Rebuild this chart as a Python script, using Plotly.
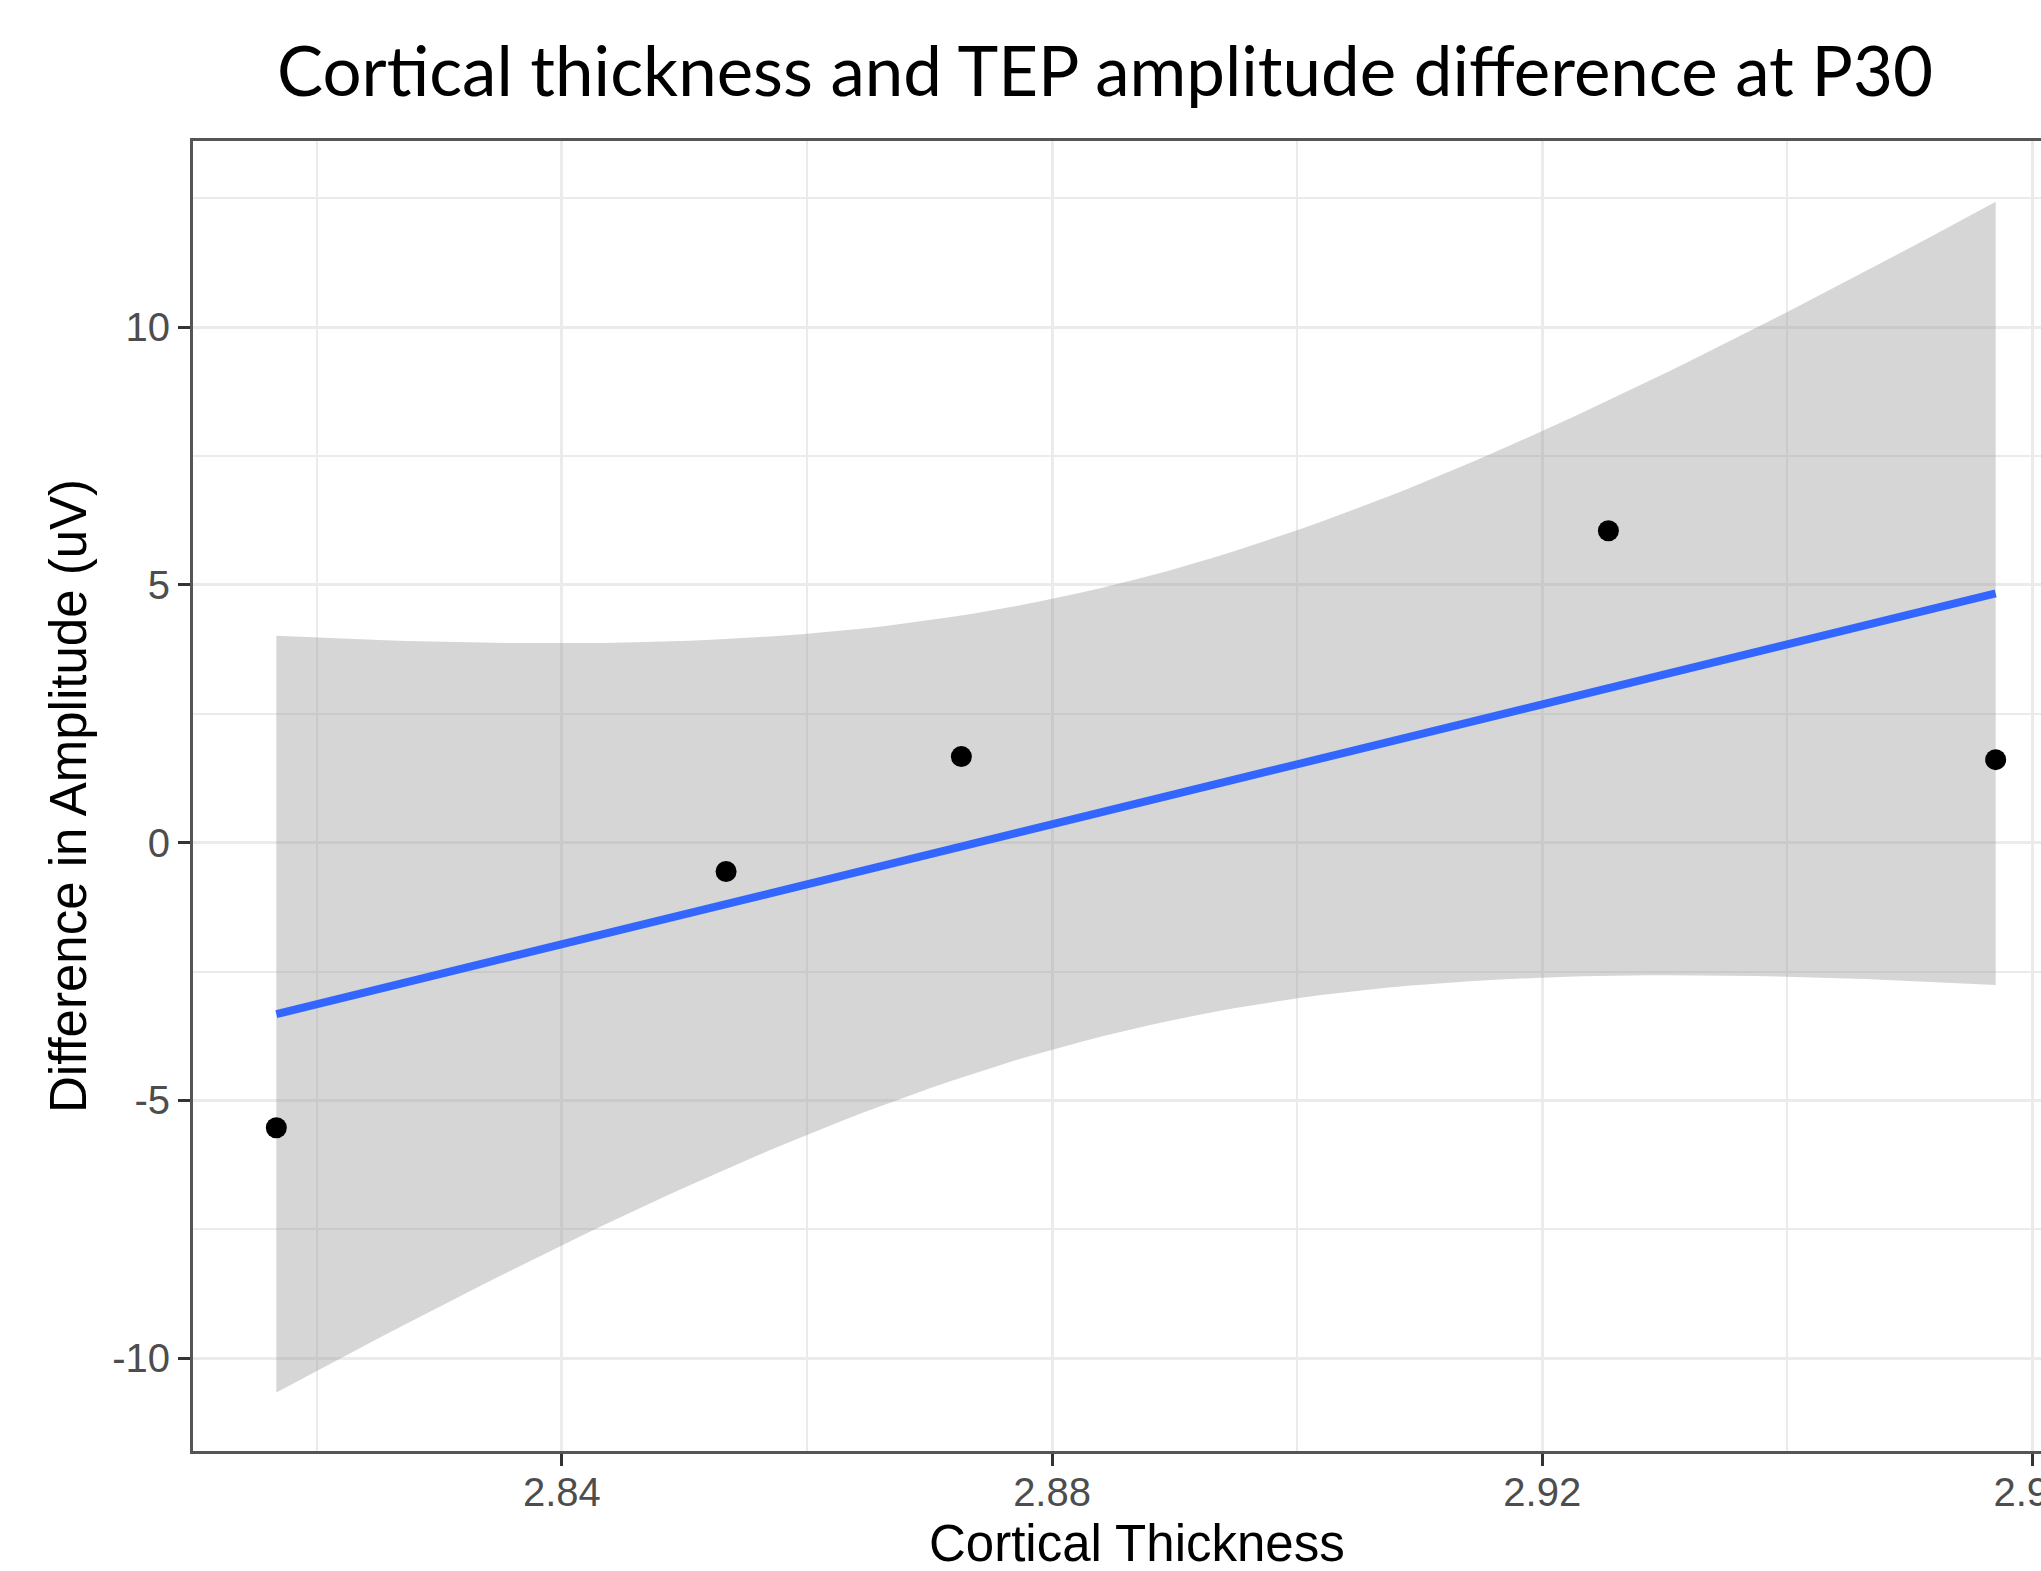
import numpy as np
import plotly.graph_objects as go

# ---- data ----
cortical_thickness = [2.8167, 2.8534, 2.8726, 2.9254, 2.9570]
amp_difference = [-5.53, -0.56, 1.67, 6.05, 1.61]

x_tick_vals = [2.84, 2.88, 2.92, 2.96]
x_tick_text = ["2.84", "2.88", "2.92", "2.96"]
y_tick_vals = [-10, -5, 0, 5, 10]
y_tick_text = ["-10", "-5", "0", "5", "10"]

title_text = "Cortical thickness and TEP amplitude difference at P30"
x_title = "Cortical Thickness"
y_title = "Difference in Amplitude (uV)"

# ---- linear fit with 95% confidence band (as geom_smooth(method = "lm")) ----
x = np.array(cortical_thickness)
y = np.array(amp_difference)
n = len(x)
slope, intercept = np.polyfit(x, y, 1)
resid = y - (slope * x + intercept)
s = np.sqrt(np.sum(resid ** 2) / (n - 2))
sxx = np.sum((x - x.mean()) ** 2)
T_CRIT = 3.182446  # t(0.975, df = 3)
xf = np.linspace(x.min(), x.max(), 80)
yf = slope * xf + intercept
se = s * np.sqrt(1.0 / n + (xf - x.mean()) ** 2 / sxx)
lo = yf - T_CRIT * se
hi = yf + T_CRIT * se

W, H = 2041, 1571
L, R, T, B = 193, 0, 141, 120
pw = W - L - R
ph = H - T - B

fig = go.Figure()
fig.add_trace(go.Scatter(
    x=np.concatenate([xf, xf[::-1]]), y=np.concatenate([hi, lo[::-1]]),
    fill="toself", fillcolor="rgba(153,153,153,0.4)", line=dict(width=0),
    mode="lines", hoverinfo="skip", showlegend=False))
fig.add_trace(go.Scatter(
    x=xf, y=yf, mode="lines", line=dict(color="#3366FF", width=8),
    showlegend=False))
fig.add_trace(go.Scatter(
    x=cortical_thickness, y=amp_difference, mode="markers",
    marker=dict(color="black", size=21), showlegend=False))

axis_font = dict(family="Liberation Sans, Arial, sans-serif", size=40, color="#4D4D4D")

fig.update_layout(
    width=W, height=H,
    margin=dict(l=L, r=R, t=T, b=B, pad=0, autoexpand=False),
    paper_bgcolor="white", plot_bgcolor="white",
    showlegend=False,
    xaxis=dict(
        range=[2.8099, 2.9607], tickvals=x_tick_vals, ticktext=x_tick_text,
        showgrid=True, gridcolor="#EBEBEB", gridwidth=3,
        minor=dict(dtick=0.02, tick0=2.82, showgrid=True, gridcolor="#EBEBEB", gridwidth=1.5, ticks=""),
        ticks="outside", ticklen=12, tickwidth=3, tickcolor="#333333",
        showline=True, linecolor="#555555", linewidth=3, mirror=True,
        zeroline=False, tickfont=axis_font, ticklabeloverflow="allow",
        ticklabelstandoff=-8, automargin=False,
    ),
    yaxis=dict(
        range=[-11.80, 13.61], tickvals=y_tick_vals, ticktext=y_tick_text,
        showgrid=True, gridcolor="#EBEBEB", gridwidth=3,
        minor=dict(dtick=2.5, tick0=-12.5, showgrid=True, gridcolor="#EBEBEB", gridwidth=1.5, ticks=""),
        ticks="outside", ticklen=12, tickwidth=3, tickcolor="#333333",
        showline=True, linecolor="#555555", linewidth=3, mirror=False,
        zeroline=False, tickfont=axis_font, automargin=False,
    ),
    annotations=[
        dict(text=title_text, xref="paper", yref="paper",
             x=(1105 - L) / pw, y=1 + (T - 70) / ph,
             xanchor="center", yanchor="middle", showarrow=False,
             font=dict(family="Lato, sans-serif", size=69, color="black")),
        dict(text=x_title, xref="paper", yref="paper",
             x=(1137 - L) / pw, y=-(1543 - (H - B)) / ph,
             xanchor="center", yanchor="middle", showarrow=False,
             font=dict(family="Liberation Sans, Arial, sans-serif", size=51, color="black")),
        dict(text=y_title, xref="paper", yref="paper",
             x=(68 - L) / pw, y=0.5, textangle=-90,
             xanchor="center", yanchor="middle", showarrow=False,
             font=dict(family="Liberation Sans, Arial, sans-serif", size=51, color="black")),
    ],
)

fig.write_html("out.html", config={"displayModeBar": False},
               post_script="document.body.style.margin='0';")
